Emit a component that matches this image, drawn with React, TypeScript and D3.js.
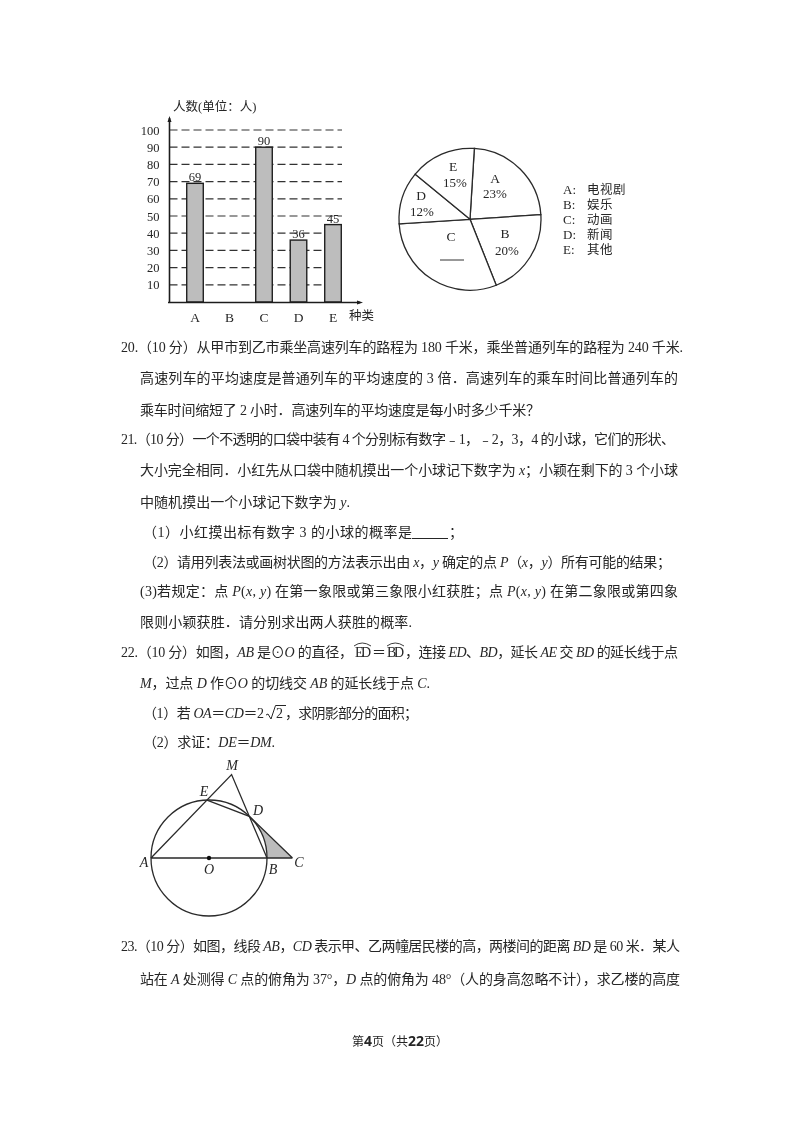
import { useEffect, useRef } from "react";
import * as d3 from "d3";

const SERIF = '"Liberation Serif", "Noto Sans CJK SC", serif';
const INK = "#262626";

// bar chart
const barCategories = ["A", "B", "C", "D", "E"];
const barValues = [69, 0, 90, 36, 45];
const barLabels = ["69", "", "90", "36", "45"];
const yTicks = [10, 20, 30, 40, 50, 60, 70, 80, 90, 100];

// pie chart, C is the blank the question asks for
const pieNames = ["A", "B", "C", "D", "E"];
const pieValues = [23, 20, 30, 12, 15];
const pieTexts = ["23%", "20%", "", "12%", "15%"];
const legendKeys = ["A:", "B:", "C:", "D:", "E:"];
const legendNames = ["电视剧", "娱乐", "动画", "新闻", "其他"];

// page text: [x, baseline, width, text], *...* is italic
type Line = [number, number, number, string];
const textLines: Line[] = [
  [121, 352, 562, "20.（10 分）从甲市到乙市乘坐高速列车的路程为 180 千米，乘坐普通列车的路程为 240 千米."],
  [140, 383, 538, "高速列车的平均速度是普通列车的平均速度的 3 倍．高速列车的乘车时间比普通列车的"],
  [140, 415, 400, "乘车时间缩短了 2 小时．高速列车的平均速度是每小时多少千米？"],
  [121, 444, 554, "21.（10 分）一个不透明的口袋中装有 4 个分别标有数字﹣1，﹣2，3，4 的小球，它们的形状、"],
  [140, 475, 538, "大小完全相同．小红先从口袋中随机摸出一个小球记下数字为 *x*；小颖在剩下的 3 个小球"],
  [140, 507, 210, "中随机摸出一个小球记下数字为 *y*."],
  [143, 537, 269, "（1）小红摸出标有数字 3 的小球的概率是"],
  [449, 537, 8, "；"],
  [143, 567, 528, "（2）请用列表法或画树状图的方法表示出由 *x*，*y* 确定的点 *P*（*x*，*y*）所有可能的结果；"],
  [140, 596, 538, "(3)若规定：点 *P*(*x*, *y*) 在第一象限或第三象限小红获胜；点 *P*(*x*, *y*) 在第二象限或第四象"],
  [140, 627, 272, "限则小颖获胜．请分别求出两人获胜的概率."],
  [121, 657, 232, "22.（10 分）如图，*AB* 是⊙*O* 的直径，"],
  [355, 657, 16, "ED"],
  [372, 657, 13, "＝"],
  [387, 657, 17, "BD"],
  [405, 657, 273, "，连接 *ED*、*BD*，延长 *AE* 交 *BD* 的延长线于点"],
  [140, 688, 290, "*M*，过点 *D* 作⊙*O* 的切线交 *AB* 的延长线于点 *C*."],
  [143, 718, 121, "（1）若 *OA*＝*CD*＝2"],
  [276, 718, 8, "2"],
  [285, 718, 133, "，求阴影部分的面积；"],
  [143, 747, 132, "（2）求证：*DE*＝*DM*."],
  [121, 951, 559, "23.（10 分）如图，线段 *AB*，*CD* 表示甲、乙两幢居民楼的高，两楼间的距离 *BD* 是 60 米．某人"],
  [140, 984, 540, "站在 *A* 处测得 *C* 点的俯角为 37°，*D* 点的俯角为 48°（人的身高忽略不计），求乙楼的高度"],
];

function renderRuns(text: string) {
  return text.split("*").map((run, i) =>
    i % 2 ? (
      <tspan key={i} fontStyle="italic">{run}</tspan>
    ) : (
      <tspan key={i}>{run}</tspan>
    )
  );
}

export default function App() {
  const svgRef = useRef<SVGSVGElement | null>(null);

  useEffect(() => {
    const svg = d3.select(svgRef.current);
    svg.selectAll("g.figure").remove();

    // ---- bars
    const bars = svg.append("g").attr("class", "figure").attr("filter", "url(#soft)")
      .attr("font-family", SERIF).attr("fill", INK);
    const x = d3.scaleBand().domain(barCategories).range([177.75, 350.25]).paddingInner(0.52).paddingOuter(0.26);
    const y = d3.scaleLinear().domain([0, 100]).range([302, 130]);
    const axisX = 169.5;

    bars.selectAll("line.grid").data(yTicks).join("line")
      .attr("class", "grid")
      .attr("x1", axisX).attr("x2", 342)
      .attr("y1", (d) => y(d)).attr("y2", (d) => y(d))
      .attr("stroke", "#333").attr("stroke-width", 1.2)
      .attr("stroke-dasharray", "8 4");

    barCategories.forEach((cat, i) => {
      if (!barValues[i]) return;
      bars.append("rect")
        .attr("x", x(cat)!).attr("width", x.bandwidth())
        .attr("y", y(barValues[i])).attr("height", y(0) - y(barValues[i]))
        .attr("fill", "#bdbdbd").attr("stroke", "#1f1f1f").attr("stroke-width", 1.4);
      bars.append("text")
        .attr("x", x(cat)! + x.bandwidth() / 2).attr("y", y(barValues[i]) - 2)
        .attr("text-anchor", "middle").attr("font-size", 12.5)
        .text(barLabels[i]);
    });

    bars.selectAll("text.tick").data(yTicks).join("text")
      .attr("class", "tick")
      .attr("x", 159.5).attr("y", (d) => y(d) + 4.5)
      .attr("text-anchor", "end").attr("font-size", 12.5)
      .text((d) => d);

    bars.selectAll("text.cat").data(barCategories).join("text")
      .attr("class", "cat")
      .attr("x", (d) => x(d)! + x.bandwidth() / 2).attr("y", 321.5)
      .attr("text-anchor", "middle").attr("font-size", 13.5)
      .text((d) => d);

    // axes with small arrow heads
    const axisLine = d3.path();
    axisLine.moveTo(axisX, 302.5); axisLine.lineTo(axisX, 118);
    axisLine.moveTo(168, 302.5); axisLine.lineTo(360, 302.5);
    bars.append("path").attr("d", axisLine.toString())
      .attr("fill", "none").attr("stroke", "#1f1f1f").attr("stroke-width", 1.6);
    const heads = d3.path();
    heads.moveTo(axisX, 116); heads.lineTo(axisX - 2, 122); heads.lineTo(axisX + 2, 122); heads.closePath();
    heads.moveTo(363, 302.5); heads.lineTo(357, 300.5); heads.lineTo(357, 304.5); heads.closePath();
    bars.append("path").attr("d", heads.toString()).attr("fill", "#1f1f1f");

    bars.append("text").attr("x", 173).attr("y", 111).attr("font-size", 12.5).text("人数(单位：人)");
    bars.append("text").attr("x", 349).attr("y", 320).attr("font-size", 12.5).text("种类");

    // ---- pie
    const cx = 470, cy = 219.3, r = 71;
    const pie = svg.append("g").attr("class", "figure").attr("filter", "url(#soft)")
      .attr("font-family", SERIF).attr("fill", INK);
    const startA = (3.5 * Math.PI) / 180;
    const arcs = d3.pie<number>().sort(null).startAngle(startA).endAngle(startA + 2 * Math.PI)(pieValues);
    const arc = d3.arc<d3.PieArcDatum<number>>().innerRadius(0).outerRadius(r);
    const slices = pie.append("g").attr("transform", `translate(${cx},${cy})`);
    slices.selectAll("path").data(arcs).join("path")
      .attr("d", arc)
      .attr("fill", "#fff").attr("stroke", "#2a2a2a").attr("stroke-width", 1.3);

    // label spots, measured from the pie centre
    const nameSpots = [[25, -41], [35, 14], [-19, 17], [-49, -24], [-17, -53]];
    const pctSpots = [[25, -26], [37, 31], [-19, 44], [-48, -8], [-15, -37]];
    pieNames.forEach((name, i) => {
      pie.append("text")
        .attr("x", cx + nameSpots[i][0]).attr("y", cy + nameSpots[i][1] + 4.5)
        .attr("text-anchor", "middle").attr("font-size", 13.5)
        .text(name);
      if (pieTexts[i]) {
        pie.append("text")
          .attr("x", cx + pctSpots[i][0]).attr("y", cy + pctSpots[i][1] + 4.5)
          .attr("text-anchor", "middle").attr("font-size", 13)
          .text(pieTexts[i]);
      }
    });
    pie.append("line")
      .attr("x1", 440).attr("x2", 464).attr("y1", 260).attr("y2", 260)
      .attr("stroke", "#333").attr("stroke-width", 1);

    legendKeys.forEach((key, i) => {
      const ly = 193.5 + i * 15;
      pie.append("text").attr("x", 563).attr("y", ly).attr("font-size", 13).text(key);
      pie.append("text").attr("x", 587).attr("y", ly).attr("font-size", 12.5)
        .attr("letter-spacing", 0.5).text(legendNames[i]);
    });

    // ---- circle figure
    const ox = 209, oy = 858, rad = 58;
    const geo = svg.append("g").attr("class", "figure").attr("filter", "url(#soft)")
      .attr("font-family", SERIF).attr("fill", INK);
    const deg = Math.PI / 180;
    const onCircle = (a: number): [number, number] => [ox + rad * Math.cos(a * deg), oy - rad * Math.sin(a * deg)];
    const A: [number, number] = [ox - rad, oy];
    const B: [number, number] = [ox + rad, oy];
    const D = onCircle(46);
    const E = onCircle(92);
    const C: [number, number] = [ox + rad / Math.cos(46 * deg), oy];
    const t = (B[0] - A[0]) / ((E[0] - A[0]) + (B[0] - D[0]) * (E[1] - A[1]) / (D[1] - B[1]));
    const M: [number, number] = [A[0] + (E[0] - A[0]) * t, A[1] + (E[1] - A[1]) * t];

    const shade = d3.path();
    shade.moveTo(D[0], D[1]);
    shade.arc(ox, oy, rad, -46 * deg, 0);
    shade.lineTo(C[0], C[1]);
    shade.closePath();
    geo.append("path").attr("d", shade.toString()).attr("fill", "#bcbcbc");

    geo.append("circle").attr("cx", ox).attr("cy", oy).attr("r", rad)
      .attr("fill", "none").attr("stroke", "#2a2a2a").attr("stroke-width", 1.3);
    const segs = d3.path();
    segs.moveTo(A[0], A[1]); segs.lineTo(C[0], C[1]);
    segs.moveTo(A[0], A[1]); segs.lineTo(M[0], M[1]); segs.lineTo(B[0], B[1]);
    segs.moveTo(E[0], E[1]); segs.lineTo(D[0], D[1]); segs.lineTo(C[0], C[1]);
    geo.append("path").attr("d", segs.toString())
      .attr("fill", "none").attr("stroke", "#2a2a2a").attr("stroke-width", 1.3);
    geo.append("circle").attr("cx", ox).attr("cy", oy).attr("r", 2.2).attr("fill", "#111");

    const pointLabels: [string, number, number][] = [
      ["M", 232, 770], ["E", 204, 796], ["D", 258, 815], ["A", 144, 867],
      ["O", 209, 874], ["B", 273, 874], ["C", 299, 867],
    ];
    pointLabels.forEach(([name, lx, ly]) => {
      geo.append("text").attr("x", lx).attr("y", ly)
        .attr("text-anchor", "middle").attr("font-size", 14).attr("font-style", "italic")
        .text(name);
    });
  }, []);

  return (
    <svg
      ref={svgRef}
      width={800}
      height={1132}
      style={{ position: "absolute", left: 0, top: 0, background: "#fff" }}
    >
      <defs>
        {/* the scan is slightly soft */}
        <filter id="soft" x="-5%" y="-5%" width="110%" height="110%">
          <feGaussianBlur stdDeviation="0.4" />
        </filter>
        <filter id="softText" x="-2%" y="-2%" width="104%" height="104%">
          <feGaussianBlur stdDeviation="0.25" />
        </filter>
      </defs>

      <g filter="url(#softText)">
        <g fontFamily={SERIF} fontSize={14} fill={INK}>
          {textLines.map(([x, y, w, text], i) => (
            <text key={i} x={x} y={y} textLength={w} lengthAdjust="spacing">
              {renderRuns(text)}
            </text>
          ))}
        </g>

        {/* blank for question 21 (1) */}
        <line x1={412} x2={448} y1={538.5} y2={538.5} stroke={INK} strokeWidth={1} />

        {/* arc marks over ED and BD */}
        <path d="M354 646 Q362 640 371 646 M387 646 Q395 640 404 646" fill="none" stroke={INK} strokeWidth={0.9} />

        {/* root sign */}
        <path d="M266 715 L268 714 L271 719 L275.5 705.5 L286 705.5" fill="none" stroke={INK} strokeWidth={1} />

        {/* footer */}
        <text x={352} y={1046} fontFamily={SERIF} fontSize={12} fill={INK}>
          第
          <tspan fontFamily='"Noto Sans", sans-serif' fontWeight={700} fontSize={14}>4</tspan>
          页（共
          <tspan fontFamily='"Noto Sans", sans-serif' fontWeight={700} fontSize={14}>22</tspan>
          页）
        </text>
      </g>
    </svg>
  );
}
